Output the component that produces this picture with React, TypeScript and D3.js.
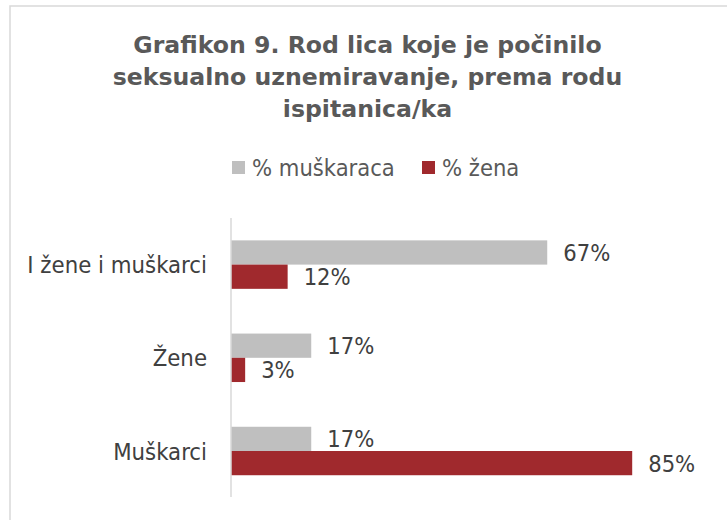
import React from "react";
import * as d3 from "d3";

const categories = ["I žene i muškarci", "Žene", "Muškarci"];
const seriesNames = ["% muškaraca", "% žena"];
const valuesMen = [67, 17, 17];
const valuesWomen = [12, 3, 85];
const titleLines = [
  "Grafikon 9. Rod lica koje je počinilo",
  "seksualno uznemiravanje, prema rodu",
  "ispitanica/ka",
];
const colors = ["#BFBFBF", "#A0292D"];

const W = 727;
const H = 520;
const FONT = "'DejaVu Sans Condensed', 'DejaVu Sans', sans-serif";
const TITLE_FONT = "'DejaVu Sans', sans-serif";

export default function App() {
  const x = d3.scaleLinear().domain([0, 100]).range([231, 703]);
  const y = d3.scaleBand<string>().domain(categories).range([218, 497.6]).paddingInner(0.48).paddingOuter(0.24);
  const sub = d3.scaleBand<number>().domain([0, 1]).range([0, y.bandwidth()]);
  const series = [valuesMen, valuesWomen];

  return (
    <svg width={W} height={H} style={{ position: "absolute", left: 0, top: 0, background: "#fff" }}>
      <rect x={10} y={6} width={W + 50} height={H + 50} fill="#fff" stroke="#d9d9d9" strokeWidth={1.5} />
      <g fill="#595959" fontFamily={TITLE_FONT} fontWeight="bold" fontSize={23.6} textAnchor="middle">
        {titleLines.map((t, i) => (
          <text key={i} x={367.5} y={53.3 + i * 31.7}>{t}</text>
        ))}
      </g>
      <g fontFamily={FONT} fontSize={23.5} fill="#595959">
        {seriesNames.map((s, i) => {
          const lx = i === 0 ? 232 : 422;
          return (
            <g key={s}>
              <rect x={lx} y={161} width={13} height={13} fill={colors[i]} />
              <text x={lx + 20} y={175.5}>{s}</text>
            </g>
          );
        })}
      </g>
      {categories.map((c, ci) => (
        <g key={c}>
          <text
            x={207}
            y={(y(c) as number) + y.bandwidth() / 2}
            dy="0.36em"
            textAnchor="end"
            fontFamily={FONT}
            fontSize={23.7}
            fill="#404040"
          >
            {c}
          </text>
          {series.map((vals, si) => {
            const by = (y(c) as number) + (sub(si) as number);
            return (
              <g key={si}>
                <rect x={x(0)} y={by} width={x(vals[ci]) - x(0)} height={sub.bandwidth()} fill={colors[si]} />
                <text
                  x={x(vals[ci]) + 16}
                  y={by + sub.bandwidth() / 2}
                  dy="0.36em"
                  fontFamily={FONT}
                  fontSize={23.5}
                  fill="#404040"
                >
                  {vals[ci]}%
                </text>
              </g>
            );
          })}
        </g>
      ))}
      <line x1={x(0)} x2={x(0)} y1={218} y2={497} stroke="#d9d9d9" strokeWidth={1.5} />
    </svg>
  );
}
